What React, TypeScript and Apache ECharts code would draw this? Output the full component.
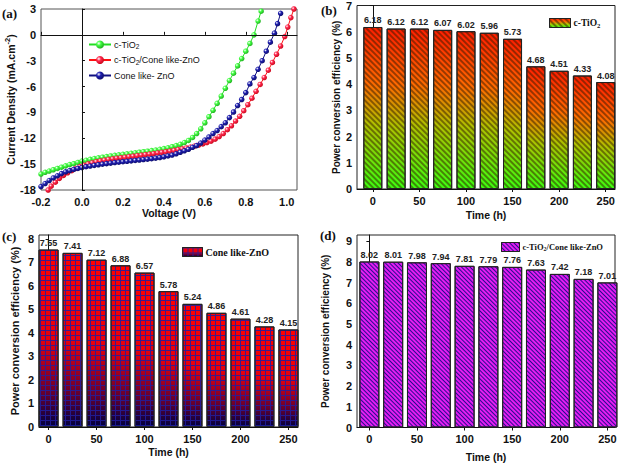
import React, { useEffect, useRef } from "react";
import * as echarts from "echarts";

// ---- Panel (a): J–V curves, [voltage (V), current density (mA cm^-2)] ----
const jvTiO2: number[][] = [
  [-0.2, -16.15], [-0.18, -15.95], [-0.16, -15.8], [-0.14, -15.65], [-0.12, -15.5], [-0.1, -15.35],
  [-0.08, -15.2], [-0.06, -15.05], [-0.04, -14.95], [-0.02, -14.8], [0, -14.65], [0.02, -14.55],
  [0.04, -14.45], [0.06, -14.35], [0.08, -14.27], [0.1, -14.2], [0.12, -14.12], [0.14, -14.05],
  [0.16, -13.98], [0.18, -13.92], [0.2, -13.86], [0.22, -13.8], [0.24, -13.74], [0.26, -13.68],
  [0.28, -13.62], [0.3, -13.56], [0.32, -13.5], [0.34, -13.43], [0.36, -13.36], [0.38, -13.28],
  [0.4, -13.2], [0.42, -13.1], [0.44, -12.98], [0.46, -12.85], [0.48, -12.7], [0.5, -12.5],
  [0.52, -12.25], [0.54, -11.9], [0.56, -11.45], [0.58, -10.9], [0.6, -10.2], [0.62, -9.5],
  [0.64, -8.75], [0.66, -7.95], [0.68, -7.1], [0.7, -6.2], [0.72, -5.3], [0.74, -4.45],
  [0.76, -3.6], [0.78, -2.75], [0.8, -1.9], [0.82, -1.0], [0.84, 0.0], [0.86, 1.6], [0.875, 2.75],
];
const jvTiO2ZnO: number[][] = [
  [-0.165, -18.0], [-0.15, -17.55], [-0.13, -17.1], [-0.11, -16.65], [-0.09, -16.3], [-0.07, -16.0],
  [-0.05, -15.75], [-0.03, -15.5], [-0.01, -15.3], [0.01, -15.12], [0.03, -14.97], [0.05, -14.84],
  [0.07, -14.72], [0.09, -14.62], [0.11, -14.53], [0.13, -14.45], [0.15, -14.38], [0.17, -14.31],
  [0.19, -14.25], [0.21, -14.19], [0.23, -14.13], [0.25, -14.07], [0.27, -14.01], [0.29, -13.95],
  [0.31, -13.89], [0.33, -13.83], [0.35, -13.77], [0.37, -13.7], [0.39, -13.63], [0.41, -13.56],
  [0.43, -13.48], [0.45, -13.4], [0.47, -13.31], [0.49, -13.22], [0.51, -13.12], [0.53, -13.02],
  [0.55, -12.9], [0.57, -12.78], [0.59, -12.65], [0.61, -12.5], [0.63, -12.33], [0.65, -12.1],
  [0.67, -11.8], [0.69, -11.45], [0.71, -11.0], [0.73, -10.55], [0.75, -10.0], [0.77, -9.45],
  [0.79, -8.8], [0.81, -8.1], [0.83, -7.35], [0.85, -6.55], [0.87, -5.75], [0.89, -4.95],
  [0.91, -4.1], [0.93, -3.2], [0.95, -2.25], [0.97, -1.3], [0.99, -0.2], [1.005, 0.9],
  [1.02, 2.0], [1.035, 3.0],
];
const jvZnO: number[][] = [
  [-0.2, -17.6], [-0.18, -17.25], [-0.16, -16.9], [-0.14, -16.6], [-0.12, -16.35], [-0.1, -16.1],
  [-0.08, -15.9], [-0.06, -15.75], [-0.04, -15.62], [-0.02, -15.5], [0, -15.4], [0.02, -15.3],
  [0.04, -15.22], [0.06, -15.14], [0.08, -15.07], [0.1, -15.0], [0.12, -14.94], [0.14, -14.88],
  [0.16, -14.82], [0.18, -14.77], [0.2, -14.72], [0.22, -14.67], [0.24, -14.62], [0.26, -14.57],
  [0.28, -14.52], [0.3, -14.47], [0.32, -14.42], [0.34, -14.36], [0.36, -14.3], [0.38, -14.23],
  [0.4, -14.15], [0.42, -14.05], [0.44, -13.95], [0.46, -13.8], [0.48, -13.62], [0.5, -13.45],
  [0.52, -13.28], [0.54, -13.05], [0.56, -12.85], [0.58, -12.55], [0.6, -12.2], [0.62, -11.85],
  [0.64, -11.45], [0.66, -11.1], [0.68, -10.65], [0.7, -10.2], [0.72, -9.6], [0.74, -8.95],
  [0.76, -8.2], [0.78, -7.5], [0.8, -6.7], [0.82, -5.7], [0.84, -4.95], [0.86, -4.0],
  [0.88, -3.0], [0.9, -1.9], [0.92, -0.85], [0.94, 0.2], [0.955, 1.3], [0.97, 2.5],
];
const voltTicks = [-0.2, 0, 0.2, 0.4, 0.6, 0.8, 1.0];

// ---- Panels (b)-(d): power conversion efficiency vs time ----
const timeH = [0, 25, 50, 75, 100, 125, 150, 175, 200, 225, 250];
const timeTicks = [0, 50, 100, 150, 200, 250];
const pceTiO2 = [6.18, 6.12, 6.12, 6.07, 6.02, 5.96, 5.73, 4.68, 4.51, 4.33, 4.08];
const pceZnO = [7.55, 7.41, 7.12, 6.88, 6.57, 5.78, 5.24, 4.86, 4.61, 4.28, 4.15];
const pceTiO2ZnO = [8.02, 8.01, 7.98, 7.94, 7.81, 7.79, 7.76, 7.63, 7.42, 7.18, 7.01];
const pceTicksB = [0, 1, 2, 3, 4, 5, 6, 7];
const pceTicksC = [0, 1, 2, 3, 4, 5, 6, 7, 8];
const pceTicksD = [0, 1, 2, 3, 4, 5, 6, 7, 8, 9];

const SANS = "Liberation Sans, Arial, sans-serif";
const SERIF = "Liberation Serif, Times New Roman, serif";

function ball(c: string, dark: string) {
  return new echarts.graphic.RadialGradient(0.35, 0.35, 0.75, [
    { offset: 0, color: "#ffffff" },
    { offset: 0.35, color: c },
    { offset: 1, color: dark },
  ]);
}

export default function App() {
  const ref = useRef<HTMLDivElement>(null);
  useEffect(() => {
    if (!ref.current) return;
    const chart = echarts.init(ref.current, null, { renderer: "svg" });
    const grids = [
      { left: 41, top: 9, width: 256, height: 181 },
      { left: 357, top: 5, width: 258, height: 184 },
      { left: 39, top: 235, width: 259, height: 192 },
      { left: 357, top: 235, width: 258, height: 194 },
    ];
    const tickLabel = { color: "#111", fontFamily: SANS, fontWeight: "bold", fontSize: 11 };
    const nameStyle = { color: "#111", fontFamily: SANS, fontWeight: "bold", fontSize: 10.5 };
    const axLine = { show: true, lineStyle: { color: "#111", width: 1 } };

    const timeX = (gi: number, min: number, max: number, gap: number) => ({
      type: "value", gridIndex: gi, min, max, name: "Time (h)", nameLocation: "middle", nameGap: gap,
      nameTextStyle: nameStyle, axisLine: axLine,
      axisTick: { show: true, customValues: timeTicks, length: 3, lineStyle: { color: "#111" } },
      axisLabel: { ...tickLabel, customValues: timeTicks, margin: 6 },
      splitLine: { show: false },
    });
    const pceY = (gi: number, max: number, ticks: number[], gap: number, fs: number) => ({
      type: "value", gridIndex: gi, min: 0, max, name: "Power conversion efficiency (%)",
      nameLocation: "middle", nameGap: gap, nameTextStyle: { ...nameStyle, fontSize: fs }, axisLine: axLine,
      axisTick: { show: true, length: 3, customValues: ticks, lineStyle: { color: "#111" } },
      axisLabel: { ...tickLabel, margin: 5, customValues: ticks }, splitLine: { show: false },
    });

    const barLabel = {
      show: true, position: "top", distance: 2, fontSize: 9, fontWeight: "bold", fontFamily: SANS, color: "#222",
      formatter: (p: any) => Number(p.value[1]).toFixed(2),
    };

    const fillB = new echarts.graphic.LinearGradient(0, 0, 0, 1, [
      { offset: 0, color: "#ff1e00" },
      { offset: 0.35, color: "#ff6a00" },
      { offset: 0.6, color: "#b0c000" },
      { offset: 1, color: "#3cff10" },
    ]);
    const fillC = new echarts.graphic.LinearGradient(0, 0, 0, 1, [
      { offset: 0, color: "#ff0000" },
      { offset: 0.5, color: "#e8000c" },
      { offset: 0.82, color: "#600030" },
      { offset: 1, color: "#000040" },
    ]);
    const decalB = { symbol: "rect", symbolSize: 1, color: "rgba(50,25,0,0.5)", dashArrayX: [1, 0], dashArrayY: [1.3, 2], rotation: Math.PI / 4 };
    const decalC = { symbol: "rect", symbolSize: 1, color: "rgba(30,30,160,0.85)", dashArrayX: [[1, 0], [1, 3.5]], dashArrayY: [1, 0, 3.5, 0], rotation: 0 };
    const decalD = { symbol: "rect", symbolSize: 1, color: "#2a0a90", dashArrayX: [1, 0], dashArrayY: [1, 1.2], rotation: Math.PI / 4 };

    const barLegend = (name: string, left: number, top: number, fs: number, w: number) => ({
      data: [name], left, top, padding: 0, icon: "rect", itemWidth: w, itemHeight: 9, itemGap: 3,
      itemStyle: { borderColor: "#222", borderWidth: 1 },
      textStyle: {
        fontFamily: SERIF, fontWeight: "bold", fontSize: fs, color: "#111", padding: [0, 0, 0, -2],
        rich: { sub: { fontSize: fs * 0.7, verticalAlign: "bottom", padding: [4, 0, 0, 0], fontFamily: SERIF, fontWeight: "bold", color: "#111" } },
      },
      formatter: (n: string) => n.replace(/^[bcd]:/, "").replace(/TiO2/g, "TiO{sub|2}"),
    });

    const jvSeries = (name: string, data: number[][], line: string, c: string, dark: string) => ({
      type: "line", name, xAxisIndex: 0, yAxisIndex: 0, data, symbol: "circle", symbolSize: 5.5,
      lineStyle: { color: line, width: 1 }, itemStyle: { color: ball(c, dark), borderWidth: 0 }, clip: true,
    });

    chart.setOption({
      animation: false,
      grid: grids.map((g, i) => ({ ...g, show: true, borderColor: i === 0 ? "#555" : "#222", borderWidth: 1, backgroundColor: "transparent" })),
      xAxis: [
        {
          type: "value", gridIndex: 0, min: -0.2, max: 1.05, name: "Voltage (V)", nameLocation: "middle", nameGap: 17.5,
          nameTextStyle: nameStyle, axisLine: axLine,
          axisTick: { show: true, inside: true, length: 3, customValues: voltTicks, lineStyle: { color: "#111" } },
          axisLabel: { ...tickLabel, customValues: voltTicks, margin: 6, formatter: (v: number) => v.toFixed(1) },
          splitLine: { show: false },
        },
        timeX(1, -17, 260, 20.5),
        timeX(2, -10, 260, 19.5),
        timeX(3, -13, 258, 23.5),
      ],
      yAxis: [
        {
          type: "value", gridIndex: 0, min: -18, max: 3, interval: 3, name: "Current Density (mA.cm{sup|-2})",
          nameLocation: "middle", nameGap: 23,
          nameTextStyle: { ...nameStyle, rich: { sup: { fontSize: 7.5, fontFamily: SANS, fontWeight: "bold", color: "#111", verticalAlign: "top", padding: [0, 0, 6, 0] } } },
          axisLine: axLine, axisTick: { show: true, inside: true, length: 3, lineStyle: { color: "#111" } },
          axisLabel: { ...tickLabel, margin: 5 }, splitLine: { show: false },
        },
        pceY(1, 7, pceTicksB, 16, 10),
        pceY(2, 8.17, pceTicksC, 18.5, 11),
        pceY(3, 9.3, pceTicksD, 27, 10),
      ],
      legend: [
        {
          data: ["c-TiO2", "c-TiO2/Cone like-ZnO", "Cone like- ZnO"], orient: "vertical", left: 88, top: 40,
          padding: 0, itemWidth: 22, itemHeight: 10, itemGap: 5.5,
          textStyle: {
            fontFamily: SANS, fontSize: 9, color: "#111", padding: [0, 0, 0, -2],
            rich: { sub: { fontSize: 6.5, verticalAlign: "bottom", padding: [4, 0, 0, 0], fontFamily: SANS, color: "#111" } },
          },
          formatter: (n: string) => n.replace(/TiO2/g, "TiO{sub|2}"),
        },
        barLegend("b:c-TiO2", 549, 18, 9.5, 21),
        barLegend("c:Cone like-ZnO", 182, 247, 10, 20),
        barLegend("d:c-TiO2/Cone like-ZnO", 501, 242, 8.5, 18),
      ],
      series: [
        {
          ...jvSeries("c-TiO2", jvTiO2, "#22dd22", "#44ff44", "#18a018"),
          markLine: {
            silent: true, symbol: "none", label: { show: false },
            lineStyle: { color: "#111", width: 1, type: "solid" },
            data: [{ xAxis: 0 }, { yAxis: 0 }],
          },
        },
        jvSeries("c-TiO2/Cone like-ZnO", jvTiO2ZnO, "#ff1010", "#ff2a50", "#c00010"),
        jvSeries("Cone like- ZnO", jvZnO, "#101080", "#2020b0", "#080860"),
        {
          type: "bar", name: "b:c-TiO2", xAxisIndex: 1, yAxisIndex: 1, barWidth: 19,
          data: timeH.map((t, i) => [t, pceTiO2[i]]),
          itemStyle: { color: fillB, borderColor: "#222", borderWidth: 1, decal: decalB }, label: barLabel,
        },
        {
          type: "bar", name: "c:Cone like-ZnO", xAxisIndex: 2, yAxisIndex: 2, barWidth: 20,
          data: timeH.map((t, i) => [t, pceZnO[i]]),
          itemStyle: { color: fillC, borderColor: "#222", borderWidth: 1, decal: decalC }, label: barLabel,
        },
        {
          type: "bar", name: "d:c-TiO2/Cone like-ZnO", xAxisIndex: 3, yAxisIndex: 3, barWidth: 20,
          data: timeH.map((t, i) => [t, pceTiO2ZnO[i]]),
          itemStyle: { color: "#e41ef0", borderColor: "#222", borderWidth: 1, decal: decalD }, label: barLabel,
        },
      ],
      graphic: [
        { type: "text", left: 2, top: 7, style: { text: "(a)", font: `bold 13px ${SERIF}`, fill: "#111" } },
        { type: "text", left: 321, top: 4, style: { text: "(b)", font: `bold 13px ${SERIF}`, fill: "#111" } },
        { type: "text", left: 2, top: 230, style: { text: "(c)", font: `bold 13px ${SERIF}`, fill: "#111" } },
        { type: "text", left: 320, top: 229, style: { text: "(d)", font: `bold 13px ${SERIF}`, fill: "#111" } },
      ],
    });
    return () => chart.dispose();
  }, []);
  return <div ref={ref} style={{ position: "fixed", left: 0, top: 0, width: 620, height: 463, background: "#fff" }} />;
}
